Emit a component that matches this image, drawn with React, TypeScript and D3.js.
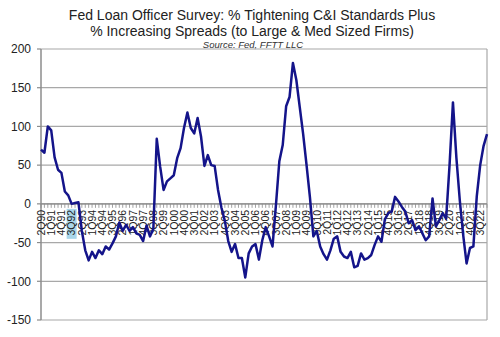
import React from "react";
import * as d3 from "d3";

const titleLines = [
  "Fed Loan Officer Survey: % Tightening C&I Standards Plus",
  "% Increasing Spreads (to Large & Med Sized Firms)",
];
const sourceText = "Source: Fed, FFTT LLC";

const startYear = 1990;
const startQuarter = 2;

const values: number[] = [
  70, 66, 100, 95, 60, 44, 40, 16, 11, 0, 1, 2,
  -35, -60, -73, -62, -70, -60, -65, -55, -59, -51, -42, -24,
  -35, -27, -35, -30, -38, -40, -48, -28, -42, -32, 84, 48,
  18, 29, 33, 37, 59, 72, 98, 118, 98, 91, 111, 87,
  49, 63, 50, 49, 18, -5, -22, -48, -62, -52, -70, -70,
  -95, -64, -55, -52, -72, -47, -30, -42, -55, -2, 55, 76,
  126, 138, 182, 160, 125, 90, 50, 8, -42, -35, -55, -65,
  -72, -60, -45, -42, -62, -68, -70, -62, -82, -80, -64, -72,
  -70, -66, -53, -42, -49, -20, -12, -10, 9, 3, -4, -10,
  -25, -21, -34, -29, -38, -47, -42, 7, -29, -21, -12, -19,
  50, 131, 60, 5, -40, -77, -57, -55, 10, 50, 75, 90,
];

const quarters: string[] = values.map((_, i) => {
  const q0 = startQuarter - 1 + i;
  const yr = startYear + Math.floor(q0 / 4);
  const q = (q0 % 4) + 1;
  return `${q}Q${String(yr % 100).padStart(2, "0")}`;
});

const yTicks = [200, 150, 100, 50, 0, -50, -100, -150];
const highlightedLabel = "3Q92";

const W = 500;
const H = 337;
const left = 41;
const right = 487;
const top = 49;
const bottom = 320;
const FONT = "'Liberation Sans', Arial, sans-serif";

export default function App() {
  const x = d3.scalePoint<string>().domain(quarters).range([left, right]);
  const y = d3.scaleLinear().domain([-150, 200]).range([bottom, top]);
  const line = d3
    .line<number>()
    .x((_, i) => x(quarters[i]) as number)
    .y((d) => y(d));

  const labelIdx = quarters.map((_, i) => i).filter((i) => i % 3 === 0);
  const y0 = y(0);

  return (
    <svg
      width={W}
      height={H}
      style={{ position: "absolute", left: 0, top: 0, background: "#fff" }}
      fontFamily={FONT}
    >
      <rect x={0} y={0} width={W} height={H} fill="#fff" />
      {titleLines.map((t, k) => (
        <text
          key={k}
          x={252}
          y={20 + k * 15.5}
          textAnchor="middle"
          fontSize={14}
          fill="#222"
        >
          {t}
        </text>
      ))}
      <text
        x={253}
        y={47.5}
        textAnchor="middle"
        fontSize={9.5}
        fontStyle="italic"
        fill="#333"
      >
        {sourceText}
      </text>

      {/* gridlines */}
      {yTicks.map((t) => (
        <line
          key={t}
          x1={left}
          x2={right}
          y1={y(t)}
          y2={y(t)}
          stroke="#a8a8a8"
          strokeWidth={1.2}
        />
      ))}
      <line x1={right} x2={right} y1={top} y2={bottom} stroke="#a8a8a8" strokeWidth={1.2} />
      <line x1={left} x2={left} y1={top} y2={bottom} stroke="#8c8c8c" strokeWidth={1.5} />
      {yTicks.map((t) => (
        <g key={"yt" + t}>
          <line x1={left - 4} x2={left} y1={y(t)} y2={y(t)} stroke="#8c8c8c" strokeWidth={1.2} />
          <text
            x={31}
            y={y(t)}
            dy="0.36em"
            textAnchor="end"
            fontSize={12}
            fill="#222"
          >
            {t}
          </text>
        </g>
      ))}

      {/* category axis at zero */}
      <line x1={left} x2={right} y1={y0} y2={y0} stroke="#8c8c8c" strokeWidth={1.2} />
      {quarters.map((q) => (
        <line
          key={"xt" + q}
          x1={x(q)}
          x2={x(q)}
          y1={y0}
          y2={y0 + 4}
          stroke="#8c8c8c"
          strokeWidth={0.8}
        />
      ))}
      {labelIdx.map((i) => {
        const q = quarters[i];
        const px = x(q) as number;
        return (
          <g key={"xl" + q} transform={`translate(${px},${y0 + 6}) rotate(-90)`}>
            {q === highlightedLabel && (
              <rect x={-29} y={-5} width={30} height={10} fill="#a9d6ea" />
            )}
            <text
              x={0}
              y={0}
              dy="0.36em"
              textAnchor="end"
              fontSize={10.5}
              fill="#222"
            >
              {q}
            </text>
          </g>
        );
      })}

      <path
        d={line(values) || ""}
        fill="none"
        stroke="#14148a"
        strokeWidth={2.5}
        strokeLinejoin="round"
      />
    </svg>
  );
}
